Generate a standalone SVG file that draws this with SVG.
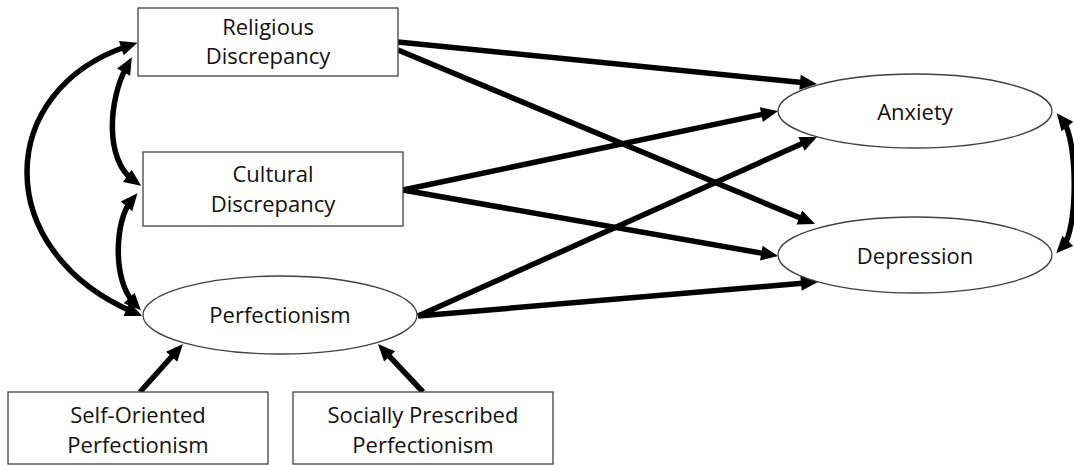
<svg xmlns="http://www.w3.org/2000/svg" width="1074" height="465" viewBox="0 0 1074 465">
<style>
.box{fill:#fff;stroke:#404040;stroke-width:1.3}
.t{font-family:"Open Sans","Liberation Sans",sans-serif;font-size:22px;fill:#111;text-anchor:middle}
.c{fill:none;stroke:#000;stroke-width:5.5}
</style>
<defs>
<marker id="ah" markerUnits="userSpaceOnUse" viewBox="-8 -8 20 16" refX="0" refY="0" markerWidth="20" markerHeight="16" orient="auto-start-reverse">
<path d="M-7,-7.5 L10,0 L-7,7.5 z" fill="#000"/>
</marker>
</defs>
<rect width="1074" height="465" fill="#fff"/>
<g id="connectors">
<line class="c" x1="398" y1="42" x2="807" y2="83" marker-end="url(#ah)"/>
<line class="c" x1="398" y1="50" x2="805.8" y2="220.2" marker-end="url(#ah)"/>
<line class="c" x1="403" y1="190" x2="768.2" y2="113.1" marker-end="url(#ah)"/>
<line class="c" x1="403" y1="190" x2="768.2" y2="254.3" marker-end="url(#ah)"/>
<line class="c" x1="418" y1="316" x2="807.9" y2="141" marker-end="url(#ah)"/>
<line class="c" x1="418" y1="316" x2="808" y2="282.8" marker-end="url(#ah)"/>
<line class="c" x1="140" y1="392" x2="176.3" y2="351.5" marker-end="url(#ah)"/>
<line class="c" x1="423" y1="392" x2="384.8" y2="351.3" marker-end="url(#ah)"/>
<path class="c" d="M128,46 C-5,90 -10,250 133,312" marker-start="url(#ah)" marker-end="url(#ah)"/>
<path class="c" d="M127,66 C108,100 105,160 133,180" marker-start="url(#ah)" marker-end="url(#ah)"/>
<path class="c" d="M131,201 C115,220 112,280 134,303" marker-start="url(#ah)" marker-end="url(#ah)"/>
<path class="c" d="M1063,121 C1078,140 1078,230 1063,246" marker-start="url(#ah)" marker-end="url(#ah)"/>
</g>
<g id="religious">
<rect class="box" x="138" y="8" width="260" height="68"/>
<text class="t" x="268" y="35">Religious</text>
<text class="t" x="268" y="64">Discrepancy</text>
</g>
<g id="cultural">
<rect class="box" x="143" y="152" width="260" height="74"/>
<text class="t" x="273" y="182">Cultural</text>
<text class="t" x="273" y="212">Discrepancy</text>
</g>
<g id="perfectionism">
<ellipse class="box" cx="280" cy="315" rx="137" ry="39"/>
<text class="t" x="280" y="323">Perfectionism</text>
</g>
<g id="self-oriented">
<rect class="box" x="8" y="392" width="260" height="72"/>
<text class="t" x="138" y="423">Self-Oriented</text>
<text class="t" x="138" y="453">Perfectionism</text>
</g>
<g id="socially-prescribed">
<rect class="box" x="293" y="392" width="260" height="72"/>
<text class="t" x="423" y="423">Socially Prescribed</text>
<text class="t" x="423" y="453">Perfectionism</text>
</g>
<g id="anxiety">
<ellipse class="box" cx="915" cy="111" rx="137" ry="37"/>
<text class="t" x="915" y="120">Anxiety</text>
</g>
<g id="depression">
<ellipse class="box" cx="915" cy="255" rx="137" ry="38"/>
<text class="t" x="915" y="264">Depression</text>
</g>
</svg>
